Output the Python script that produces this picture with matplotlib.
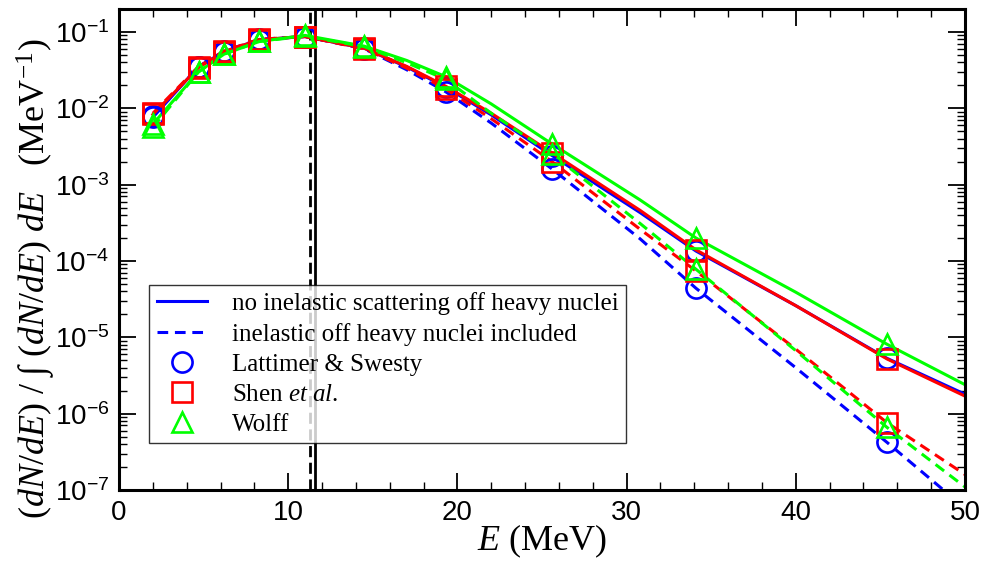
import numpy as np
import matplotlib
matplotlib.use("Agg")
import matplotlib.pyplot as plt
from matplotlib.lines import Line2D
from matplotlib.ticker import MultipleLocator, FixedLocator, LogLocator, FuncFormatter, NullFormatter

plt.rcParams['font.family'] = ['Liberation Serif', 'DejaVu Serif']
plt.rcParams['mathtext.fontset'] = 'custom'
plt.rcParams['mathtext.rm'] = 'Liberation Serif'
plt.rcParams['mathtext.it'] = 'Liberation Serif:italic'
plt.rcParams['mathtext.sf'] = 'Liberation Sans'

# ==== spectra (normalised), read on a common energy grid ====
energy = np.array([2.0, 4.7, 6.2, 8.3, 11.0, 14.5, 17.0, 19.3, 22.0, 25.6,
                   30.8, 34.1, 40.0, 45.4, 50.0])
has_marker = np.array([1, 1, 1, 1, 1, 1, 0, 1, 0, 1, 0, 1, 0, 1, 0], dtype=bool)

ls_elastic = [7.6e-3, 0.035, 0.055, 0.079, 0.087, 0.061, 0.0348, 0.019, 8.2e-3,
              2.4e-3, 4.3e-4, 1.35e-4, 2.6e-5, 5.3e-6, 1.8e-6]
ls_inelastic = [8.0e-3, 0.035, 0.056, 0.080, 0.087, 0.060, 0.032, 0.0165, 6.4e-3,
                1.6e-3, 1.95e-4, 4.4e-5, 4.0e-6, 4.2e-7, 5.8e-8]
shen_elastic = [8.3e-3, 0.034, 0.055, 0.079, 0.087, 0.061, 0.0354, 0.0195, 8.6e-3,
                2.6e-3, 4.6e-4, 1.4e-4, 2.6e-5, 5.2e-6, 1.7e-6]
shen_inelastic = [8.6e-3, 0.035, 0.056, 0.080, 0.087, 0.060, 0.0336, 0.018, 7.3e-3,
                  2.0e-3, 2.6e-4, 7.4e-5, 7.0e-6, 7.6e-7, 1.6e-7]
wolff_elastic = [6.2e-3, 0.030, 0.051, 0.075, 0.090, 0.065, 0.0423, 0.026, 0.0114,
                 3.4e-3, 6.3e-4, 2.0e-4, 3.9e-5, 8.1e-6, 2.4e-6]
wolff_inelastic = [5.6e-3, 0.030, 0.051, 0.075, 0.088, 0.064, 0.0395, 0.024, 8.6e-3,
                   2.5e-3, 3.1e-4, 7.8e-5, 6.7e-6, 6.6e-7, 1.1e-7]

# mean energies
mean_elastic = 11.6
mean_inelastic = 11.3

eos = [
    ("Lattimer & Swesty", "#0000ff", "o", ls_elastic, ls_inelastic),
    (r"Shen $\mathit{et\ al.}$", "#ff0000", "s", shen_elastic, shen_inelastic),
    ("Wolff", "#00ff00", "^", wolff_elastic, wolff_inelastic),
]

fig = plt.figure(figsize=(9.87, 5.68), dpi=100)
ax = fig.add_axes([0.1206, 0.1373, 0.857, 0.847])

ax.axvline(mean_elastic, color="black", lw=2.0, zorder=1)
ax.axvline(mean_inelastic, color="black", lw=2.0, dashes=(4.0, 2.0), zorder=1)

dash = (3.5, 2.2)
for name, col, mk, y_el, y_in in eos:
    y_el = np.array(y_el)
    y_in = np.array(y_in)
    ax.plot(energy, y_el, color=col, lw=2.2, zorder=2)
    ax.plot(energy, y_in, color=col, lw=2.2, dashes=dash, zorder=2)
    for y in (y_el, y_in):
        ax.plot(energy[has_marker], y[has_marker], ls="none", marker=mk, ms=14.5,
                mfc="none", mec=col, mew=1.9, zorder=3)

ax.set_yscale("log")
ax.set_xlim(0, 50)
ax.set_ylim(1e-7, 0.2)

ax.xaxis.set_major_locator(MultipleLocator(10))
ax.xaxis.set_minor_locator(MultipleLocator(2))
ax.yaxis.set_major_locator(FixedLocator(10.0 ** np.arange(-7, 0)))
ax.yaxis.set_minor_locator(LogLocator(base=10, subs=np.arange(2, 10), numticks=20))
ax.yaxis.set_minor_formatter(NullFormatter())
ax.yaxis.set_major_formatter(FuncFormatter(
    lambda v, pos: r"$\mathsf{10^{%d}}$" % int(round(np.log10(v)))))

ax.tick_params(which="both", direction="in", top=True, right=True,
               labelfontfamily="Liberation Sans", labelsize=20, pad=7)
ax.tick_params(which="major", length=12, width=1.3)
ax.tick_params(which="minor", length=6, width=1.0)
for s in ax.spines.values():
    s.set_linewidth(2.2)

ax.set_xlabel(r"$E\ \mathrm{(MeV)}$", fontsize=26, labelpad=-2)
fig.text(0.036, 0.51,
         r"$(dN/dE)\ /\ \mathrm{∫}\ (dN/dE)\ dE\ \ \ \mathrm{(MeV^{-1})}$",
         fontsize=26, rotation=90, ha="center", va="center",
         rotation_mode="anchor")

handles = [
    Line2D([], [], color="#0000ff", lw=2.2),
    Line2D([], [], color="#0000ff", lw=2.2, dashes=dash),
]
labels = ["no inelastic scattering off heavy nuclei",
          "inelastic off heavy nuclei included"]
for name, col, mk, _, _ in eos:
    handles.append(Line2D([], [], ls="none", marker=mk, ms=14.5, mfc="none",
                          mec=col, mew=1.9))
    labels.append(name)

leg = ax.legend(handles, labels, loc="upper left", bbox_to_anchor=(0.036, 0.427),
                fontsize=18, frameon=True, fancybox=False, handlelength=2.0,
                handletextpad=1.0, labelspacing=0.3, borderpad=0.3,
                borderaxespad=0)
leg.get_frame().set_edgecolor("black")
leg.get_frame().set_linewidth(1.0)

fig.savefig("out.png", dpi=100)
